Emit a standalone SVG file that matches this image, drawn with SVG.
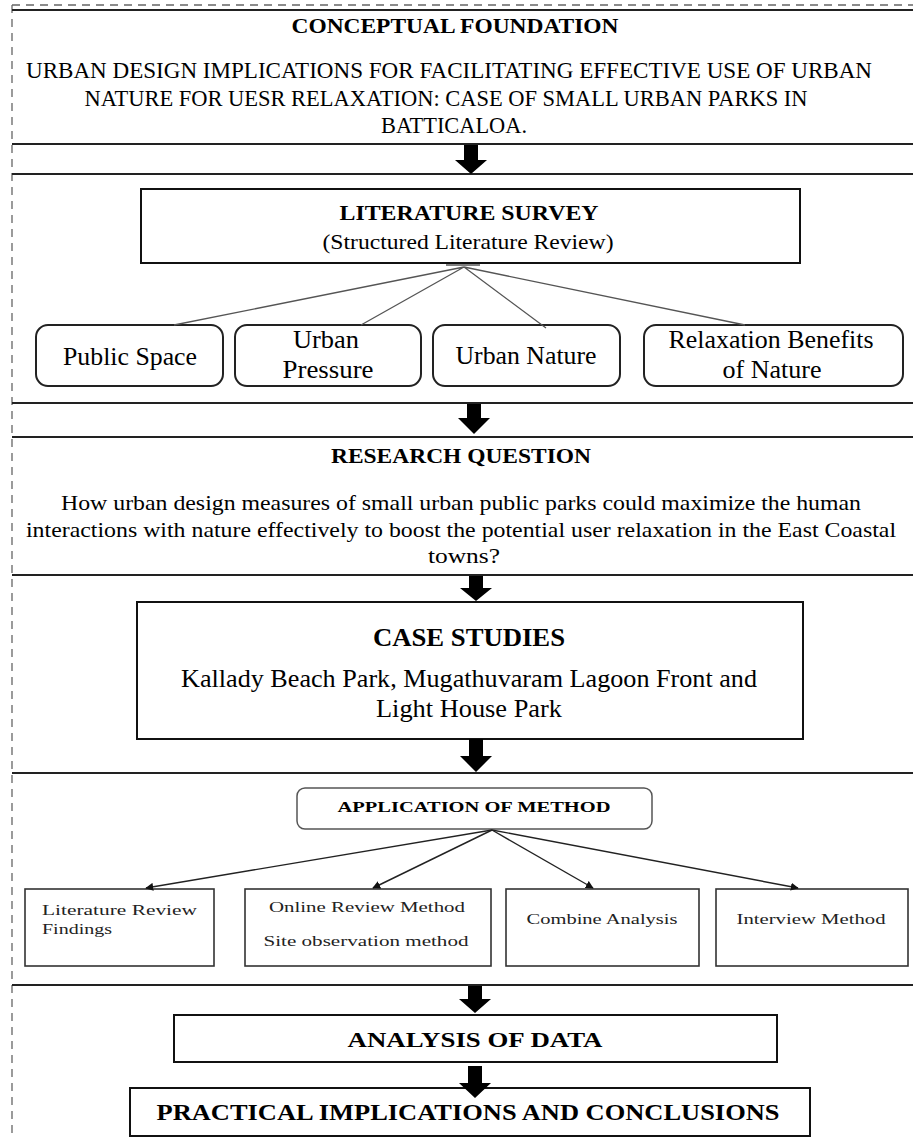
<svg xmlns="http://www.w3.org/2000/svg" width="913" height="1138" viewBox="0 0 913 1138">
<defs>
<style>
text{font-family:"Liberation Serif","Times New Roman",serif;fill:#000;text-anchor:middle}
.b{font-weight:bold}
.sec{stroke:#222;stroke-width:2.2;fill:none}
.dash{stroke:#666;stroke-width:1.3;stroke-dasharray:8 6;fill:none}
.box{fill:#fff;stroke:#111;stroke-width:2}
.rbox{fill:#fff;stroke:#222;stroke-width:2}
.mbox{fill:#fff;stroke:#333;stroke-width:1.6}
.fan{stroke:#555;stroke-width:1.3;fill:none}
.con{stroke:#222;stroke-width:1.4;fill:none;marker-end:url(#ah)}
.blk{fill:#000}
.m{font-size:15px;fill:#222}
.s{text-anchor:start}
</style>
<marker id="ah" viewBox="0 0 10 10" refX="9" refY="5" markerWidth="8" markerHeight="8" markerUnits="userSpaceOnUse" orient="auto">
<path d="M0,0 L10,5 L0,10 z" fill="#111"/>
</marker>
</defs>
<rect width="913" height="1138" fill="#fff"/>

<g id="frame">
<path class="dash" d="M12,5 H913 M12,5 V1138"/>
<path class="sec" d="M12,10 H913 M12,144 H913 M12,174 H913 M12,403 H913 M12,437 H913 M12,575 H913 M12,773 H913 M12,985 H913"/>
</g>

<g id="conceptual">
<text class="b" x="455" y="33" font-size="22" textLength="327" lengthAdjust="spacingAndGlyphs">CONCEPTUAL FOUNDATION</text>
<text x="449" y="78" font-size="24" textLength="846" lengthAdjust="spacingAndGlyphs">URBAN DESIGN IMPLICATIONS FOR FACILITATING EFFECTIVE USE OF URBAN</text>
<text x="446" y="106" font-size="24" textLength="723" lengthAdjust="spacingAndGlyphs">NATURE FOR UESR RELAXATION: CASE OF SMALL URBAN PARKS IN</text>
<text x="454" y="133" font-size="24" textLength="146" lengthAdjust="spacingAndGlyphs">BATTICALOA.</text>
</g>

<g id="literature">
<rect class="box" x="141" y="189" width="659" height="74"/>
<text class="b" x="469" y="220" font-size="21" textLength="259" lengthAdjust="spacingAndGlyphs">LITERATURE SURVEY</text>
<text x="468" y="249" font-size="22" textLength="291" lengthAdjust="spacingAndGlyphs">(Structured Literature Review)</text>
</g>

<g id="public-space">
<rect class="rbox" x="36" y="325" width="187" height="61" rx="12"/>
<text x="130" y="365" font-size="26" textLength="134" lengthAdjust="spacingAndGlyphs">Public Space</text>
</g>
<g id="urban-pressure">
<rect class="rbox" x="235" y="325" width="186" height="61" rx="12"/>
<text x="326" y="348" font-size="26" textLength="66" lengthAdjust="spacingAndGlyphs">Urban</text>
<text x="328" y="378" font-size="26" textLength="91" lengthAdjust="spacingAndGlyphs">Pressure</text>
</g>
<g id="urban-nature">
<rect class="rbox" x="433" y="325" width="187" height="61" rx="12"/>
<text x="526" y="364" font-size="26" textLength="141" lengthAdjust="spacingAndGlyphs">Urban Nature</text>
</g>
<g id="relaxation-benefits">
<rect class="rbox" x="644" y="325" width="259" height="61" rx="12"/>
<text x="771" y="348" font-size="26" textLength="205" lengthAdjust="spacingAndGlyphs">Relaxation Benefits</text>
<text x="772" y="378" font-size="26" textLength="99" lengthAdjust="spacingAndGlyphs">of Nature</text>
</g>

<g id="research-question">
<text class="b" x="461" y="463" font-size="21" textLength="260" lengthAdjust="spacingAndGlyphs">RESEARCH QUESTION</text>
<text x="461" y="510" font-size="22" textLength="800" lengthAdjust="spacingAndGlyphs">How urban design measures of small urban public parks could maximize the human</text>
<text x="461" y="537" font-size="22" textLength="870" lengthAdjust="spacingAndGlyphs">interactions with nature effectively  to boost the potential user relaxation in the East Coastal</text>
<text x="464" y="563" font-size="22" textLength="72" lengthAdjust="spacingAndGlyphs">towns?</text>
</g>

<g id="case-studies">
<rect class="box" x="137" y="602" width="666" height="137"/>
<text class="b" x="469" y="646" font-size="26" textLength="192" lengthAdjust="spacingAndGlyphs">CASE STUDIES</text>
<text x="469" y="687" font-size="25" textLength="576" lengthAdjust="spacingAndGlyphs">Kallady Beach Park, Mugathuvaram Lagoon Front and</text>
<text x="469" y="717" font-size="25" textLength="186" lengthAdjust="spacingAndGlyphs">Light House Park</text>
</g>

<g id="application">
<rect x="297" y="788" width="355" height="41" rx="8" fill="#fff" stroke="#555" stroke-width="1.5"/>
<text class="b" x="474" y="812" font-size="15" textLength="273" lengthAdjust="spacingAndGlyphs">APPLICATION OF METHOD</text>
</g>

<g id="literature-review-findings">
<rect class="mbox" x="25" y="889" width="189" height="77"/>
<text class="m s" x="42" y="915" textLength="155" lengthAdjust="spacingAndGlyphs">Literature  Review</text>
<text class="m s" x="42" y="934" textLength="70" lengthAdjust="spacingAndGlyphs">Findings</text>
</g>
<g id="online-site">
<rect class="mbox" x="245" y="889" width="246" height="77"/>
<text class="m" x="367" y="912" textLength="196" lengthAdjust="spacingAndGlyphs">Online Review Method</text>
<text class="m" x="366" y="946" textLength="205" lengthAdjust="spacingAndGlyphs">Site observation method</text>
</g>
<g id="combine-analysis">
<rect class="mbox" x="506" y="889" width="193" height="77"/>
<text class="m" x="602" y="924" textLength="151" lengthAdjust="spacingAndGlyphs">Combine Analysis</text>
</g>
<g id="interview-method">
<rect class="mbox" x="716" y="889" width="192" height="77"/>
<text class="m" x="811" y="924" textLength="149" lengthAdjust="spacingAndGlyphs">Interview Method</text>
</g>

<g id="analysis-of-data">
<rect class="box" x="174" y="1015" width="603" height="47"/>
<text class="b" x="475" y="1047" font-size="22" textLength="255" lengthAdjust="spacingAndGlyphs">ANALYSIS OF DATA</text>
</g>

<g id="practical-implications">
<rect class="box" x="130" y="1088" width="680" height="48"/>
<text class="b" x="468" y="1120" font-size="24" textLength="623" lengthAdjust="spacingAndGlyphs">PRACTICAL IMPLICATIONS AND CONCLUSIONS</text>
</g>

<g id="connectors">
<polygon class="blk" points="464,145 478,145 478,160 487,160 471,174 455,160 464,160"/>
<polygon class="blk" points="467,404 481,404 481,418 490,418 474,434 458,418 467,418"/>
<polygon class="blk" points="469,576 483,576 483,588 492,588 476,601 460,588 469,588"/>
<polygon class="blk" points="469,739 483,739 483,756 492,756 476,772 460,756 469,756"/>
<polygon class="blk" points="468,986 482,986 482,999 491,999 475,1013 459,999 468,999"/>
<polygon class="blk" points="468,1066 482,1066 482,1083 491,1083 475,1098 459,1083 468,1083"/>
<path class="fan" d="M464,267 L174,325 M464,267 L361,325 M464,267 L546,328 M464,267 L745,325 M446,265 H480"/>
<path class="con" d="M492,830 L146,888"/>
<path class="con" d="M492,830 L373,888"/>
<path class="con" d="M492,830 L593,888"/>
<path class="con" d="M492,830 L798,888"/>
</g>
</svg>
